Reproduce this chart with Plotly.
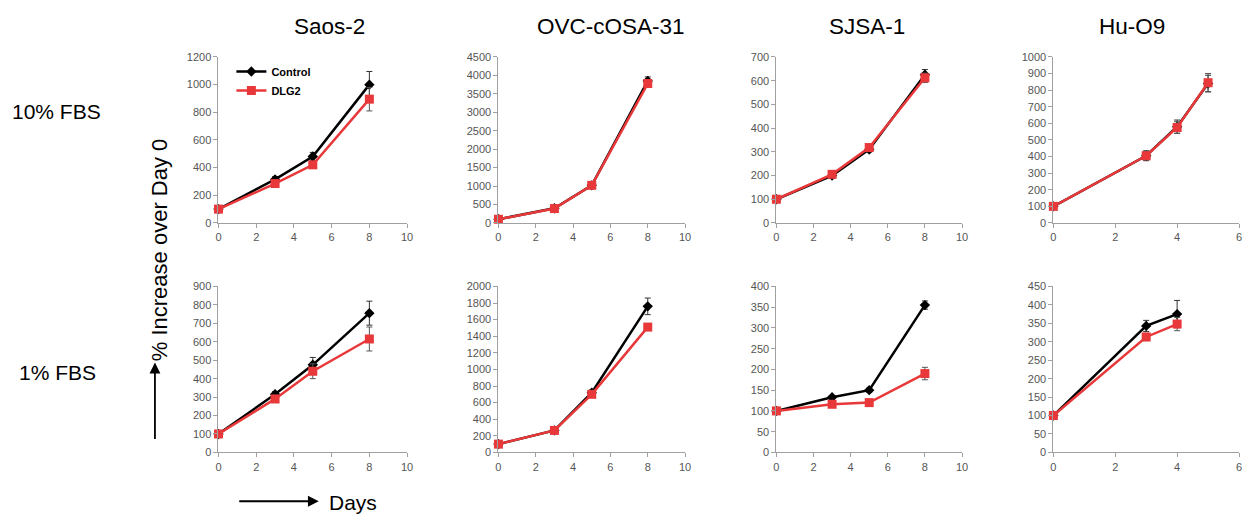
import plotly.graph_objects as go

# The page body has an 8px margin, so the figure is sized to fit the window
OFF = 8
W, H = 1254 - 2 * OFF, 525 - 2 * OFF


def px(x):
    return (x - OFF) / W


def py(y):
    return 1 - (y - OFF) / H


cell_lines = ["Saos-2", "OVC-cOSA-31", "SJSA-1", "Hu-O9"]
conditions = ["10% FBS", "1% FBS"]

days_long = [0, 3, 5, 8]
days_hu = [0, 3, 4, 5]
days_hu_low = [0, 3, 4]

# 10% FBS
saos_10_ctrl = [100, 315, 480, 1000]
saos_10_ctrl_err = [0, 20, 30, 95]
saos_10_dlg2 = [100, 285, 420, 895]
saos_10_dlg2_err = [0, 15, 25, 85]

ovc_10_ctrl = [100, 400, 1020, 3850]
ovc_10_ctrl_err = [0, 20, 40, 110]
ovc_10_dlg2 = [100, 390, 1020, 3780]
ovc_10_dlg2_err = [0, 20, 40, 100]

sjsa_10_ctrl = [100, 200, 310, 625]
sjsa_10_ctrl_err = [0, 12, 10, 22]
sjsa_10_dlg2 = [100, 205, 318, 612]
sjsa_10_dlg2_err = [0, 10, 10, 20]

hu_10_ctrl = [100, 405, 580, 840]
hu_10_ctrl_err = [0, 30, 40, 50]
hu_10_dlg2 = [100, 405, 575, 845]
hu_10_dlg2_err = [0, 25, 35, 55]

# 1% FBS
saos_1_ctrl = [100, 315, 475, 755]
saos_1_ctrl_err = [0, 15, 40, 65]
saos_1_dlg2 = [100, 290, 440, 615]
saos_1_dlg2_err = [0, 20, 40, 65]

ovc_1_ctrl = [100, 265, 720, 1760]
ovc_1_ctrl_err = [0, 15, 30, 100]
ovc_1_dlg2 = [100, 265, 700, 1510]
ovc_1_dlg2_err = [0, 15, 25, 30]

sjsa_1_ctrl = [100, 133, 150, 355]
sjsa_1_ctrl_err = [0, 4, 5, 10]
sjsa_1_dlg2 = [100, 116, 120, 190]
sjsa_1_dlg2_err = [0, 4, 4, 15]

hu_1_ctrl = [100, 343, 375]
hu_1_ctrl_err = [0, 15, 37]
hu_1_dlg2 = [100, 313, 348]
hu_1_dlg2_err = [0, 10, 18]

panels = [
    (days_long, saos_10_ctrl, saos_10_ctrl_err, saos_10_dlg2, saos_10_dlg2_err, [0, 1200], 200, [0, 10]),
    (days_long, ovc_10_ctrl, ovc_10_ctrl_err, ovc_10_dlg2, ovc_10_dlg2_err, [0, 4500], 500, [0, 10]),
    (days_long, sjsa_10_ctrl, sjsa_10_ctrl_err, sjsa_10_dlg2, sjsa_10_dlg2_err, [0, 700], 100, [0, 10]),
    (days_hu, hu_10_ctrl, hu_10_ctrl_err, hu_10_dlg2, hu_10_dlg2_err, [0, 1000], 100, [0, 6]),
    (days_long, saos_1_ctrl, saos_1_ctrl_err, saos_1_dlg2, saos_1_dlg2_err, [0, 900], 100, [0, 10]),
    (days_long, ovc_1_ctrl, ovc_1_ctrl_err, ovc_1_dlg2, ovc_1_dlg2_err, [0, 2000], 200, [0, 10]),
    (days_long, sjsa_1_ctrl, sjsa_1_ctrl_err, sjsa_1_dlg2, sjsa_1_dlg2_err, [0, 400], 50, [0, 10]),
    (days_hu_low, hu_1_ctrl, hu_1_ctrl_err, hu_1_dlg2, hu_1_dlg2_err, [0, 450], 50, [0, 6]),
]

# pixel boxes of plot areas in window coords (left, right) / (top, bottom)
col_px = [(217, 407), (499, 687), (779, 966), (1058, 1245)]
row_px = [(52, 222), (287, 457)]

RED = "#e8383a"
FONT = "Liberation Sans, Arial"
fig = go.Figure()
layout = {}
for i, (xs, c, ce, d, de, yr, dt, xr) in enumerate(panels):
    r, col = divmod(i, 4)
    n = i + 1
    xa = "x" if n == 1 else f"x{n}"
    ya = "y" if n == 1 else f"y{n}"
    fig.add_trace(go.Scatter(
        x=xs, y=c, mode="lines+markers", name="Control",
        line=dict(color="black", width=2.5),
        marker=dict(symbol="diamond", size=8, color="black"),
        error_y=dict(type="data", array=ce, color="#333333", thickness=1, width=3),
        cliponaxis=False, showlegend=(i == 0), xaxis=xa, yaxis=ya))
    fig.add_trace(go.Scatter(
        x=xs, y=d, mode="lines+markers", name="DLG2",
        line=dict(color=RED, width=2.5),
        marker=dict(symbol="square", size=9, color=RED),
        error_y=dict(type="data", array=de, color="#555555", thickness=1, width=3),
        cliponaxis=False, showlegend=(i == 0), xaxis=xa, yaxis=ya))
    l, rr = col_px[col]
    t, b = row_px[r]
    axis_common = dict(showgrid=False, zeroline=False, showline=True, linecolor="#a0a0a0",
                       linewidth=1, ticks="outside", ticklen=4, tickcolor="#a0a0a0",
                       tickfont=dict(family=FONT, size=11, color="#555555"))
    layout["xaxis" if n == 1 else f"xaxis{n}"] = dict(
        domain=[px(l), px(rr)], range=xr, dtick=2, anchor=ya, **axis_common)
    layout["yaxis" if n == 1 else f"yaxis{n}"] = dict(
        domain=[py(b), py(t)], range=yr, dtick=dt, anchor=xa, **axis_common)

fig.update_layout(**layout)

annotations = []
col_centers = [329, 612, 870, 1137]
for name, cx in zip(cell_lines, col_centers):
    annotations.append(dict(text=name, x=px(cx), y=py(21), xref="paper", yref="paper",
                            showarrow=False, font=dict(family=FONT, size=22.5, color="black"),
                            xanchor="center", yanchor="middle"))
for name, (cx, cy) in zip(conditions, [(54, 108), (55, 375)]):
    annotations.append(dict(text=name, x=px(cx), y=py(cy), xref="paper", yref="paper",
                            showarrow=False, font=dict(family=FONT, size=21, color="black"),
                            xanchor="center", yanchor="middle"))
annotations.append(dict(text="% Increase over Day 0", x=px(157), y=py(249), xref="paper", yref="paper",
                        showarrow=False, textangle=-90,
                        font=dict(family=FONT, size=22, color="black"),
                        xanchor="center", yanchor="middle"))
annotations.append(dict(text="Days", x=px(326), y=py(508), xref="paper", yref="paper",
                        showarrow=False, font=dict(family=FONT, size=21, color="black"),
                        xanchor="left", yanchor="middle"))
# arrows (tail offsets in pixels)
annotations.append(dict(x=px(153), y=py(365), ax=0, ay=78, xref="paper", yref="paper",
                        text="", showarrow=True, arrowhead=2,
                        arrowsize=1.2, arrowwidth=1.8, arrowcolor="black"))
annotations.append(dict(x=px(318), y=py(507), ax=-81, ay=0, xref="paper", yref="paper",
                        text="", showarrow=True, arrowhead=2,
                        arrowsize=1.2, arrowwidth=1.8, arrowcolor="black"))

fig.update_layout(
    width=W, height=H, margin=dict(l=0, r=0, t=0, b=0),
    paper_bgcolor="white", plot_bgcolor="white",
    annotations=annotations,
    legend=dict(x=px(230), y=py(52), xanchor="left", yanchor="top",
                bgcolor="rgba(0,0,0,0)", tracegroupgap=0, itemwidth=30,
                font=dict(family=FONT, size=11, color="black", weight="bold")),
)

fig.write_html("out.html")
